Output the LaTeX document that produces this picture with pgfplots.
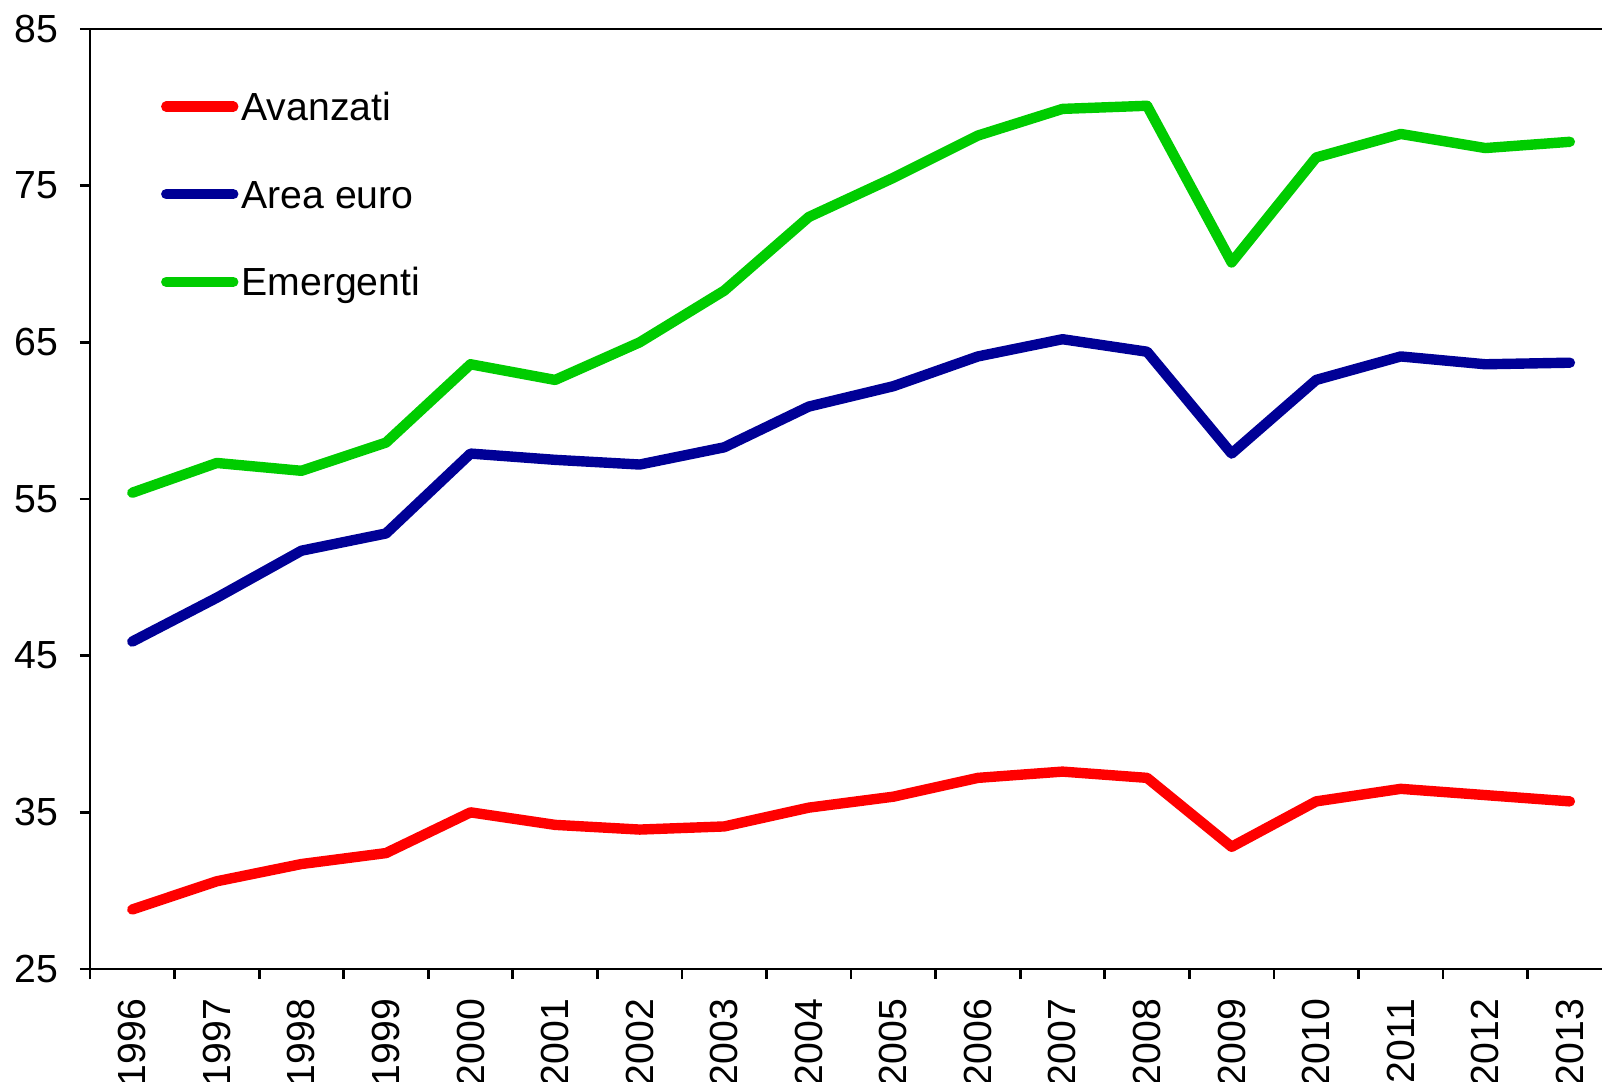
\documentclass[border=0pt]{standalone}
\usepackage{fontspec}
\setmainfont{Liberation Sans}
\usepackage{pgfplots}
\pgfplotsset{compat=1.18}
\definecolor{cred}{RGB}{255,0,0}
\definecolor{cblue}{RGB}{0,0,150}
\definecolor{cgreen}{RGB}{0,204,0}
\begin{document}
\begin{tikzpicture}
\begin{axis}[
  at={(0,0)}, anchor=south west,
  scale only axis, width=378pt, height=235pt,
  xmin=-0.5, xmax=17.38, ymin=25, ymax=85,
  axis x line*=box, axis y line*=left,
  axis line style={line width=0.7pt, black},
  xtick pos=left, ytick pos=left,
  tick align=outside, major tick length=2.5pt,
  tick style={line width=0.7pt, black},
  ytick={25,35,45,55,65,75,85},
  xtick={-0.5,0.5,...,16.5}, xticklabels={},
  extra x ticks={0,1,2,3,4,5,6,7,8,9,10,11,12,13,14,15,16,17},
  extra x tick labels={1996,1997,1998,1999,2000,2001,2002,2003,2004,2005,2006,2007,2008,2009,2010,2011,2012,2013},
  extra x tick style={major tick length=0pt},
  /pgf/number format/assume math mode=true,
  tick label style={font=\fontsize{9.8pt}{11.5pt}\selectfont},
  xticklabel style={yshift=-7.25pt, rotate=90, anchor=east, inner sep=0pt},
  yticklabel style={anchor=east, inner sep=0pt, xshift=-5.25pt},
  legend style={draw=none, fill=none, inner sep=0pt, outer sep=0pt,
    at={(axis description cs:0.0470,0.9323)}, anchor=north west,
    row sep=14.9pt, column sep=0.75pt,
    font=\fontsize{9.8pt}{11.5pt}\selectfont,
    nodes={inner sep=0pt, text height=7pt, text depth=0pt}},
  legend cell align=left,
  legend image code/.code={\path[draw=none,fill=none] (0pt,-3.5pt) rectangle (16.75pt,3.5pt);\draw[#1, line cap=round] (0pt,0pt) -- (16.75pt,0pt);},
  every axis plot/.append style={line width=2.6pt, line join=round, line cap=round},
]
\addplot[cred] coordinates {(0,28.8)(1,30.6)(2,31.7)(3,32.4)(4,35.0)(5,34.2)(6,33.9)(7,34.1)(8,35.3)(9,36.0)(10,37.2)(11,37.6)(12,37.2)(13,32.8)(14,35.7)(15,36.5)(16,36.1)(17,35.7)};
\addlegendentry{Avanzati}
\addplot[cblue] coordinates {(0,45.9)(1,48.7)(2,51.7)(3,52.8)(4,57.9)(5,57.5)(6,57.2)(7,58.3)(8,60.9)(9,62.2)(10,64.1)(11,65.2)(12,64.4)(13,57.9)(14,62.6)(15,64.1)(16,63.6)(17,63.7)};
\addlegendentry{Area euro}
\addplot[cgreen] coordinates {(0,55.4)(1,57.3)(2,56.8)(3,58.6)(4,63.6)(5,62.6)(6,65.0)(7,68.3)(8,73.0)(9,75.5)(10,78.2)(11,79.9)(12,80.1)(13,70.1)(14,76.8)(15,78.3)(16,77.4)(17,77.8)};
\addlegendentry{Emergenti}
\end{axis}
\pgfresetboundingbox
\useasboundingbox (-22.5pt,-28pt) rectangle (378pt,242.25pt);
\end{tikzpicture}
\end{document}
